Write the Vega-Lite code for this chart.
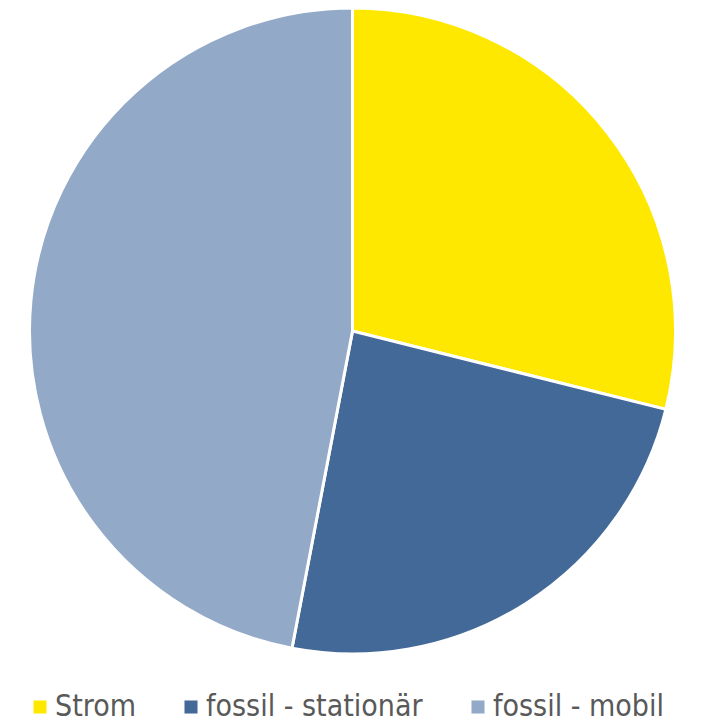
{
  "$schema": "https://vega.github.io/schema/vega-lite/v6.json",
  "width": 705,
  "height": 662,
  "padding": {"left": 0, "top": 0, "right": 0, "bottom": 62},
  "autosize": "none",
  "background": "white",
  "data": {"values": [
    {"kategorie": "Strom", "anteil": 28.9, "ord": 1},
    {"kategorie": "fossil - stationär", "anteil": 24.1, "ord": 2},
    {"kategorie": "fossil - mobil", "anteil": 47.0, "ord": 3}
  ]},
  "mark": {"type": "arc", "outerRadius": 323, "stroke": "white", "strokeWidth": 3},
  "encoding": {
    "theta": {"field": "anteil", "type": "quantitative", "stack": true},
    "order": {"field": "ord", "type": "quantitative"},
    "color": {
      "field": "kategorie",
      "type": "nominal",
      "sort": ["Strom", "fossil - stationär", "fossil - mobil"],
      "scale": {"domain": ["Strom", "fossil - stationär", "fossil - mobil"], "range": ["#FFE800", "#426998", "#93A9C8"]},
      "legend": {
        "title": null,
        "orient": "none",
        "direction": "horizontal",
        "legendX": 25,
        "legendY": 692,
        "padding": 0,
        "symbolType": "square",
        "symbolSize": 170,
        "symbolStrokeWidth": 0,
        "labelFont": "DejaVu Sans Condensed",
        "labelFontSize": 30,
        "labelColor": "#595959",
        "labelOffset": 0,
        "labelLimit": 400,
        "columnPadding": 40
      }
    }
  }
}
